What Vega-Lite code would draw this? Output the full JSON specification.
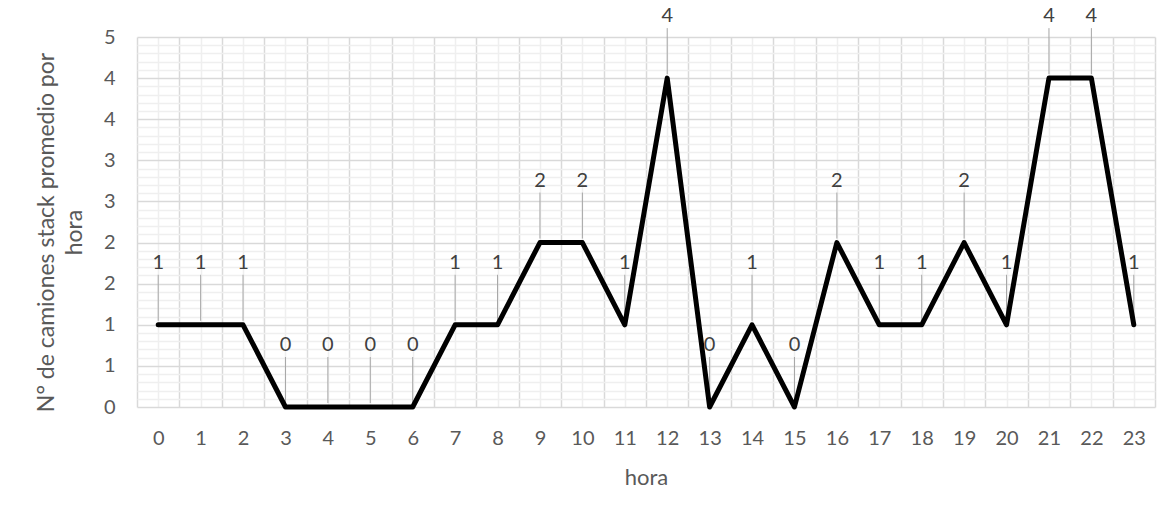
{
  "$schema": "https://vega.github.io/schema/vega-lite/v6.json",
  "width": 1018,
  "height": 370,
  "autosize": {"type": "none"},
  "padding": {"left": 137, "top": 37, "right": 16, "bottom": 113},
  "background": "white",
  "config": {"view": {"stroke": null}, "font": "Lato"},
  "data": {"values": [
    {"hora": 0, "valor": 1}, {"hora": 1, "valor": 1}, {"hora": 2, "valor": 1},
    {"hora": 3, "valor": 0}, {"hora": 4, "valor": 0}, {"hora": 5, "valor": 0},
    {"hora": 6, "valor": 0}, {"hora": 7, "valor": 1}, {"hora": 8, "valor": 1},
    {"hora": 9, "valor": 2}, {"hora": 10, "valor": 2}, {"hora": 11, "valor": 1},
    {"hora": 12, "valor": 4}, {"hora": 13, "valor": 0}, {"hora": 14, "valor": 1},
    {"hora": 15, "valor": 0}, {"hora": 16, "valor": 2}, {"hora": 17, "valor": 1},
    {"hora": 18, "valor": 1}, {"hora": 19, "valor": 2}, {"hora": 20, "valor": 1},
    {"hora": 21, "valor": 4}, {"hora": 22, "valor": 4}, {"hora": 23, "valor": 1}
  ]},
  "layer": [
    {
      "mark": {"type": "rule", "color": "#a6a6a6", "strokeWidth": 1, "yOffset": -4, "y2Offset": -50},
      "encoding": {
        "x": {"field": "hora", "type": "quantitative",
          "scale": {"domain": [-0.5, 23.5], "nice": false, "zero": false},
          "axis": {"orient": "bottom", "values": [0,1,2,3,4,5,6,7,8,9,10,11,12,13,14,15,16,17,18,19,20,21,22,23],
            "grid": true, "gridColor": "#efefef", "gridWidth": 1.5, "ticks": false, "domain": false,
            "labelFontSize": 20, "labelColor": "#595959", "labelPadding": 21,
            "title": "hora", "titleFontSize": 22, "titleFontWeight": "normal", "titleColor": "#595959", "titlePadding": 19}},
        "y": {"field": "valor", "type": "quantitative",
          "scale": {"domain": [0, 4.5], "nice": false},
          "axis": {"orient": "right", "values": [0.1,0.2,0.3,0.4,0.6,0.7,0.8,0.9,1.1,1.2,1.3,1.4,1.6,1.7,1.8,1.9,2.1,2.2,2.3,2.4,2.6,2.7,2.8,2.9,3.1,3.2,3.3,3.4,3.6,3.7,3.8,3.9,4.1,4.2,4.3,4.4],
            "grid": true, "gridColor": "#efefef", "gridWidth": 1.5, "ticks": false, "domain": false, "labels": false, "title": null}},
        "y2": {"field": "valor"}
      }
    },
    {
      "mark": {"type": "line", "color": "#000000", "strokeWidth": 5, "strokeJoin": "round", "strokeCap": "round"},
      "encoding": {
        "x": {"field": "hora", "type": "quantitative",
          "axis": {"orient": "top", "values": [-0.5,0.5,1.5,2.5,3.5,4.5,5.5,6.5,7.5,8.5,9.5,10.5,11.5,12.5,13.5,14.5,15.5,16.5,17.5,18.5,19.5,20.5,21.5,22.5,23.5],
            "grid": true, "gridColor": "#d9d9d9", "gridWidth": 1.5, "ticks": false, "domain": false, "labels": false, "title": null}},
        "y": {"field": "valor", "type": "quantitative",
          "axis": {"orient": "left", "values": [0,0.5,1,1.5,2,2.5,3,3.5,4,4.5],
            "labelExpr": "'' + round(datum.value)",
            "grid": true, "gridColor": "#d9d9d9", "gridWidth": 1.5, "ticks": false, "domain": false,
            "labelFontSize": 20, "labelColor": "#595959", "labelPadding": 22,
            "title": ["N° de camiones stack promedio por", "hora"], "titleFontSize": 23, "titleFontWeight": "normal",
            "titleColor": "#595959", "titlePadding": 17, "titleLineHeight": 28, "titleY": 195}}
      }
    },
    {
      "mark": {"type": "text", "dy": -62, "dx": 0, "fontSize": 20, "color": "#404040"},
      "encoding": {
        "x": {"field": "hora", "type": "quantitative", "axis": null},
        "y": {"field": "valor", "type": "quantitative", "axis": null},
        "text": {"field": "valor", "type": "quantitative", "format": "d"}
      }
    }
  ],
  "resolve": {"axis": {"x": "independent", "y": "independent"}}
}
